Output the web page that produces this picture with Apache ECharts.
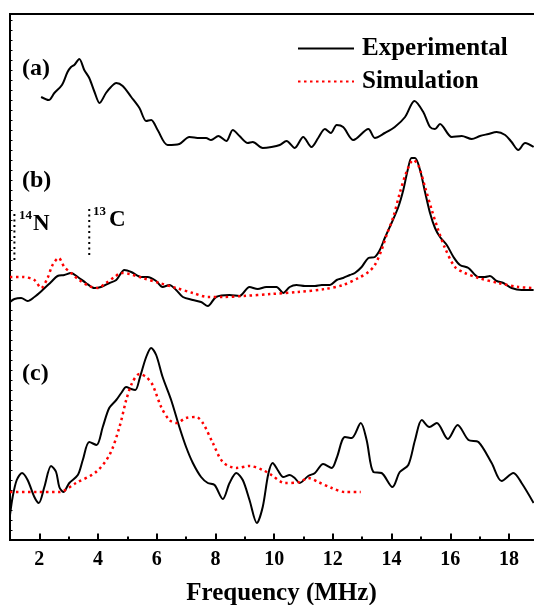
<!DOCTYPE html>
<html>
<head>
<meta charset="utf-8">
<script src="https://cdn.jsdelivr.net/npm/echarts@6/dist/echarts.min.js"></script>
<style>
  html, body { margin: 0; background: #fff; }
  #chart { width: 534px; height: 605px; }
</style>
</head>
<body>
<div id="chart"></div>
<script>
// tick positions (MHz)
const majorTicks = [2, 4, 6, 8, 10, 12, 14, 16, 18];
const minorTicks = [3, 5, 7, 9, 11, 13, 15, 17, 19];

// spectra: [frequency MHz, intensity a.u. (stacked offsets)]
const expA = [[2.06,443],[2.32,440],[2.51,447],[2.77,455],[2.96,468],[3.08,473],[3.19,475],[3.36,481],[3.53,470],[3.70,462],[3.88,448],[4.05,437],[4.27,447],[4.44,453],[4.62,457],[4.84,454],[5.13,443],[5.41,432],[5.64,419],[5.81,420],[6.03,410],[6.37,395],[6.77,396],[7.11,403],[7.46,402],[7.68,402],[7.85,400],[8.10,404],[8.37,399],[8.59,410],[8.82,404],[9.10,397],[9.27,398],[9.61,392],[9.91,393],[10.19,395],[10.42,399],[10.70,392],[10.99,403],[11.27,393],[11.50,402],[11.73,411],[11.93,407],[12.13,415],[12.35,413],[12.70,400],[13.21,411],[13.43,402],[13.77,407],[14.11,413],[14.46,423],[14.78,439],[15.08,428],[15.31,413],[15.48,411],[15.65,416],[16.05,403],[16.39,404],[16.73,401],[17.01,404],[17.30,406],[17.58,408],[17.87,405],[18.09,398],[18.32,390],[18.55,397],[18.84,393]];

const expB = [[1.0,238],[1.15,241],[1.38,242],[1.60,239],[1.83,243],[2.11,250],[2.40,258],[2.62,264],[2.85,265],[3.08,267],[3.31,263],[3.59,257],[3.88,252],[4.10,253],[4.39,257],[4.62,260],[4.90,270],[5.13,268],[5.47,263],[5.69,263],[5.98,259],[6.20,253],[6.43,255],[6.66,250],[6.89,243],[7.23,240],[7.51,238],[7.74,234],[8.02,243],[8.48,245],[8.82,244],[9.16,253],[9.44,251],[9.73,253],[10.08,253],[10.31,247],[10.53,253],[10.76,255],[11.05,254],[11.39,254],[11.62,255],[11.90,255],[12.13,260],[12.35,262],[12.58,265],[12.75,267],[12.98,273],[13.21,282],[13.43,283],[13.60,290],[13.77,302],[14.00,317],[14.23,333],[14.40,350],[14.55,370],[14.68,382],[14.80,382],[14.97,370],[15.14,348],[15.31,327],[15.48,312],[15.65,303],[15.88,295],[16.11,283],[16.33,275],[16.62,272],[16.96,263],[17.18,263],[17.35,264],[17.58,259],[17.81,257],[18.09,252],[18.43,250],[18.84,250]];

const simB = [[1.0,263],[1.43,263],[1.83,260],[2.06,252],[2.28,262],[2.45,275],[2.66,282],[2.85,273],[3.08,267],[3.36,260],[3.70,254],[3.99,252],[4.27,257],[4.56,263],[4.79,267],[5.07,266],[5.52,262],[6.09,257],[6.66,252],[7.23,247],[7.74,243],[8.25,243],[8.93,244],[9.91,246],[10.82,248],[11.73,251],[12.35,255],[12.87,262],[13.21,268],[13.43,275],[13.66,290],[13.83,305],[14.06,323],[14.28,347],[14.51,368],[14.74,380],[14.91,375],[15.14,353],[15.37,330],[15.59,310],[15.82,292],[16.16,273],[16.50,267],[16.96,262],[17.64,257],[18.32,253],[18.84,252]];

const expC = [[1.0,25],[1.09,43],[1.23,60],[1.41,67],[1.60,60],[1.83,43],[1.98,37],[2.17,53],[2.40,74],[2.57,68],[2.68,53],[2.82,48],[3.02,57],[3.31,65],[3.48,80],[3.70,98],[3.95,95],[4.16,113],[4.38,132],[4.62,140],[4.79,147],[4.96,153],[5.13,151],[5.27,150],[5.43,163],[5.64,183],[5.81,192],[5.98,185],[6.20,163],[6.49,140],[6.77,113],[7.00,93],[7.23,77],[7.51,63],[7.74,57],[7.97,55],[8.25,41],[8.48,57],[8.71,67],[8.93,60],[9.16,40],[9.41,17],[9.61,33],[9.80,66],[9.95,77],[10.12,70],[10.31,63],[10.53,65],[10.70,62],[10.87,57],[11.16,64],[11.39,67],[11.67,76],[11.96,72],[12.13,82],[12.41,103],[12.64,102],[12.95,117],[13.15,100],[13.38,68],[13.66,67],[14.03,53],[14.28,68],[14.57,75],[14.80,100],[15.03,120],[15.29,113],[15.54,117],[15.92,101],[16.25,115],[16.62,100],[16.96,98],[17.41,77],[17.75,59],[18.15,67],[18.43,57],[18.84,37]];

const simC = [[1.0,48],[1.89,48],[2.68,48],[3.25,57],[3.93,68],[4.39,85],[4.73,113],[4.96,140],[5.16,157],[5.41,166],[5.64,163],[5.86,155],[6.15,133],[6.43,120],[6.66,117],[7.00,122],[7.34,123],[7.57,117],[7.91,97],[8.25,78],[8.71,72],[9.16,74],[9.61,70],[9.91,65],[10.36,57],[10.87,58],[11.16,62],[11.50,58],[11.96,52],[12.41,48],[12.95,48]];

// hyperfine reference marks in panel (b)
const markN = [[1.15, 280], [1.15, 328]];
const markC = [[3.70, 285], [3.70, 333]];

const serif = 'Liberation Serif';
const chart = echarts.init(document.getElementById('chart'));

function expSeries(data) {
  return {
    name: 'Experimental', type: 'line', data: data, symbol: 'none', smooth: 0.3,
    lineStyle: { color: '#000', width: 2 }, itemStyle: { color: '#000' }
  };
}
function simSeries(data) {
  return {
    name: 'Simulation', type: 'line', data: data, symbol: 'none', smooth: 0.3,
    lineStyle: { color: '#ff0000', width: 2.5, type: [2.5, 3.5] }, itemStyle: { color: '#ff0000' }
  };
}
function markSeries(data) {
  return {
    type: 'line', data: data, symbol: 'none', silent: true,
    lineStyle: { color: '#000', width: 2, type: [2, 3.5] }
  };
}

function label(text, x, y, size, va) {
  return {
    type: 'text', x: x, y: y,
    style: { text: text, fontFamily: serif, fontWeight: 'bold', fontSize: size, fill: '#000', verticalAlign: va || 'middle' }
  };
}

const option = {
  animation: false,
  grid: {
    left: 10, top: 14, width: 543, height: 526, outerBoundsMode: 'none',
    show: true, borderColor: '#000', borderWidth: 2
  },
  legend: {
    data: ['Experimental', 'Simulation'],
    orient: 'vertical', left: 297, top: 36, padding: 0,
    itemWidth: 56, itemHeight: 26, itemGap: 8, selectedMode: false,
    itemStyle: { opacity: 0, color: 'rgba(0,0,0,0)', borderWidth: 0 },
    textStyle: { fontFamily: serif, fontWeight: 'bold', fontSize: 25, color: '#000', padding: [0, 0, 0, 3] }
  },
  xAxis: [
    {
      type: 'value', min: 1, max: 19.5, position: 'bottom',
      axisLine: { lineStyle: { color: '#000', width: 2 } },
      axisTick: { inside: true, length: 6.5, lineStyle: { color: '#000', width: 2 }, customValues: majorTicks },
      axisLabel: { customValues: majorTicks, fontFamily: serif, fontWeight: 'bold', fontSize: 20, color: '#000', margin: 10 },
      splitLine: { show: false },
      name: 'Frequency (MHz)', nameLocation: 'middle', nameGap: 41,
      nameTextStyle: { fontFamily: serif, fontWeight: 'bold', fontSize: 25, color: '#000' }
    },
    {
      type: 'value', min: 1, max: 19.5, position: 'bottom',
      axisLine: { show: false },
      axisTick: { inside: true, length: 3.5, lineStyle: { color: '#000', width: 2 }, customValues: minorTicks },
      axisLabel: { show: false },
      splitLine: { show: false }
    }
  ],
  yAxis: {
    type: 'value', min: 0, max: 526, interval: 10,
    axisLine: { show: true, lineStyle: { color: '#000', width: 2 } },
    axisTick: { show: true, inside: true, length: 2.5, lineStyle: { color: '#000', width: 1 } },
    axisLabel: { show: false },
    splitLine: { show: false }
  },
  series: [
    expSeries(expA),
    expSeries(expB), simSeries(simB),
    expSeries(expC), simSeries(simC),
    markSeries(markN), markSeries(markC)
  ],
  graphic: [
    label('(a)', 22, 69, 24),
    label('(b)', 22, 181, 24),
    label('(c)', 22, 374, 24),
    label('14', 19, 209, 13, 'top'),
    label('N', 33, 224, 23),
    label('13', 93, 205, 13, 'top'),
    label('C', 109, 220, 23)
  ]
};
chart.setOption(option);
</script>
</body>
</html>
